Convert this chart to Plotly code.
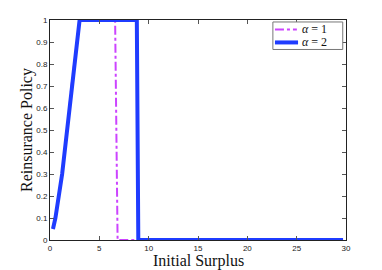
import plotly.graph_objects as go

# alpha = 2 (blue, solid)
x_a2 = [0.3, 0.55, 1.23, 1.74, 2.17, 2.68, 3.0, 8.8, 8.95, 29.7]
y_a2 = [0.05, 0.1, 0.3, 0.5, 0.7, 0.9, 1.0, 1.0, 0.0, 0.0]

# alpha = 1 (magenta, dash-dot)
x_a1 = [0.3, 0.55, 1.23, 1.74, 2.17, 2.68, 3.0, 6.6, 6.85, 29.7]
y_a1 = [0.05, 0.1, 0.3, 0.5, 0.7, 0.9, 1.0, 1.0, 0.0, 0.0]

series_names = ["<i>α</i> = 1", "<i>α</i> = 2"]
x_ticks = [0, 5, 10, 15, 20, 25, 30]
y_ticks = [0, 0.1, 0.2, 0.3, 0.4, 0.5, 0.6, 0.7, 0.8, 0.9, 1]
y_tick_labels = ["0", "0.1", "0.2", "0.3", "0.4", "0.5", "0.6", "0.7", "0.8", "0.9", "1"]

C1, C2 = "#cc44ff", "#1f3cff"
SERIF = "Liberation Serif, Times New Roman, serif"

fig = go.Figure()
fig.add_trace(go.Scatter(x=x_a1, y=y_a1, mode="lines", name=series_names[0],
                         line=dict(color=C1, width=2, dash="dashdot"), showlegend=False))
fig.add_trace(go.Scatter(x=x_a2, y=y_a2, mode="lines", name=series_names[1],
                         line=dict(color=C2, width=4), showlegend=False))

axis_common = dict(showgrid=False, zeroline=False, showline=True, linecolor="#222",
                   linewidth=1, mirror="allticks", ticks="inside", ticklen=4,
                   tickcolor="#555", automargin=False,
                   tickfont=dict(family="Liberation Sans, Arial", size=8, color="#222"))

# custom compact legend (box, line samples, labels)
shapes = [
    dict(type="rect", xref="paper", yref="paper", x0=0.753, x1=0.989, y0=0.866, y1=0.991,
         line=dict(color="#777", width=1), fillcolor="white", layer="above"),
    dict(type="line", xref="paper", yref="paper", x0=0.760, x1=0.834, y0=0.957, y1=0.957,
         line=dict(color=C1, width=2, dash="dashdot"), layer="above"),
    dict(type="line", xref="paper", yref="paper", x0=0.760, x1=0.838, y0=0.898, y1=0.898,
         line=dict(color=C2, width=4), layer="above"),
]
annotations = [
    dict(text=series_names[0], xref="paper", yref="paper", x=0.843, y=0.959, xanchor="left",
         yanchor="middle", showarrow=False, font=dict(family=SERIF, size=12, color="#111")),
    dict(text=series_names[1], xref="paper", yref="paper", x=0.843, y=0.898, xanchor="left",
         yanchor="middle", showarrow=False, font=dict(family=SERIF, size=12, color="#111")),
    dict(text="Initial Surplus", xref="paper", yref="paper", x=0.5, y=0, yshift=-21,
         xanchor="center", yanchor="middle", showarrow=False,
         font=dict(family=SERIF, size=16, color="#111")),
    dict(text="Reinsurance Policy", xref="paper", yref="paper", x=0, y=0.5, xshift=-23,
         xanchor="center", yanchor="middle", textangle=-90, showarrow=False,
         font=dict(family=SERIF, size=16, color="#111")),
]

fig.update_layout(
    width=374, height=262,
    margin=dict(l=42, r=36, t=12, b=30),
    paper_bgcolor="white", plot_bgcolor="white",
    showlegend=False,
    shapes=shapes, annotations=annotations,
    xaxis=dict(range=[0, 30], tickvals=x_ticks, **axis_common),
    yaxis=dict(range=[0, 1], tickvals=y_ticks, ticktext=y_tick_labels, **axis_common),
)

fig.write_html("out.html")
